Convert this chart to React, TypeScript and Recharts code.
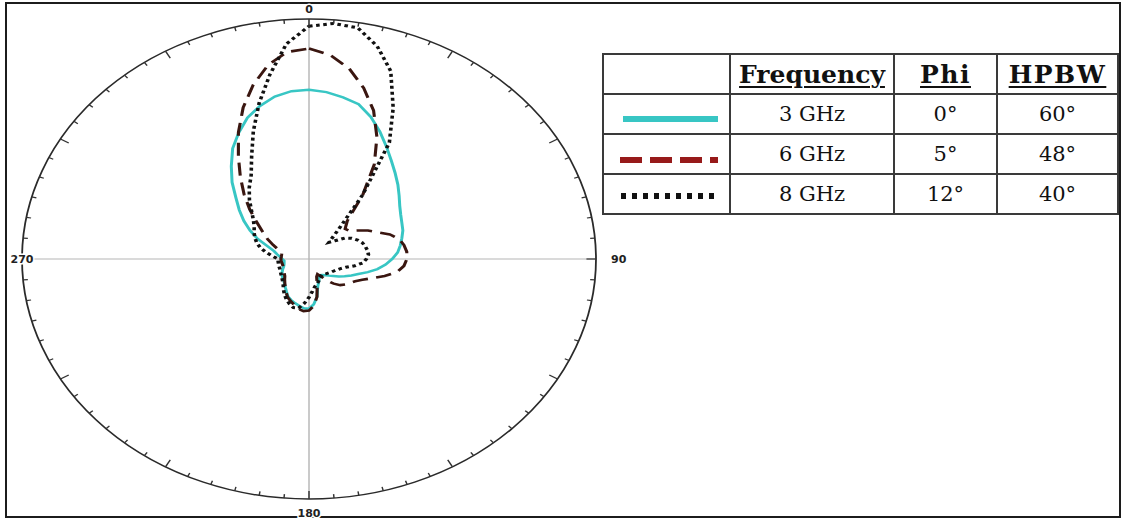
import React from 'react';
import { RadarChart, Radar, PolarGrid, PolarAngleAxis, PolarRadiusAxis } from 'recharts';

// angle categories, clockwise from the top, 5 degree steps
const angles = [
  0, 5, 10, 15, 20, 25, 30, 35, 40, 45, 50, 55, 60, 65, 70, 75, 80, 85,
  90, 95, 100, 105, 110, 115, 120, 125, 130, 135, 140, 145, 150, 155, 160, 165, 170, 175,
  180, 185, 190, 195, 200, 205, 210, 215, 220, 225, 230, 235, 240, 245, 250, 255, 260, 265,
  270, 275, 280, 285, 290, 295, 300, 305, 310, 315, 320, 325, 330, 335, 340, 345, 350, 355,
];

// normalized radiation pattern
const ghz3 = [
  0.705, 0.698, 0.684, 0.668, 0.63, 0.585, 0.54, 0.5, 0.467, 0.438, 0.41, 0.386, 0.369, 0.357, 0.348, 0.335, 0.323, 0.31,
  0.29, 0.268, 0.242, 0.212, 0.183, 0.163, 0.143, 0.127, 0.11, 0.098, 0.088, 0.082, 0.078, 0.085, 0.1, 0.118, 0.16, 0.19,
  0.207, 0.206, 0.198, 0.19, 0.182, 0.173, 0.157, 0.144, 0.133, 0.125, 0.12, 0.115, 0.108, 0.101, 0.094, 0.09, 0.088, 0.087,
  0.093, 0.101, 0.113, 0.126, 0.153, 0.197, 0.237, 0.277, 0.317, 0.36, 0.417, 0.472, 0.532, 0.58, 0.627, 0.66, 0.687, 0.702,
];
const ghz6 = [
  0.877, 0.853, 0.806, 0.737, 0.658, 0.56, 0.455, 0.327, 0.208, 0.178, 0.183, 0.207, 0.237, 0.263, 0.3, 0.324, 0.336, 0.342,
  0.341, 0.332, 0.312, 0.273, 0.234, 0.205, 0.186, 0.174, 0.165, 0.154, 0.134, 0.109, 0.084, 0.07, 0.078, 0.11, 0.16, 0.195,
  0.215, 0.218, 0.211, 0.198, 0.187, 0.176, 0.16, 0.144, 0.131, 0.12, 0.11, 0.105, 0.101, 0.098, 0.096, 0.095, 0.096, 0.097,
  0.098, 0.097, 0.097, 0.098, 0.113, 0.138, 0.167, 0.197, 0.237, 0.292, 0.352, 0.417, 0.492, 0.582, 0.671, 0.751, 0.821, 0.866,
];
const ghz8 = [
  0.97, 0.985, 0.978, 0.918, 0.833, 0.694, 0.56, 0.326, 0.158, 0.098, 0.118, 0.152, 0.172, 0.187, 0.198, 0.203, 0.207, 0.208,
  0.2, 0.188, 0.162, 0.133, 0.117, 0.107, 0.1, 0.095, 0.09, 0.086, 0.082, 0.08, 0.083, 0.088, 0.098, 0.107, 0.117, 0.135,
  0.16, 0.185, 0.208, 0.21, 0.199, 0.186, 0.171, 0.155, 0.14, 0.13, 0.123, 0.118, 0.114, 0.111, 0.109, 0.109, 0.108, 0.108,
  0.108, 0.126, 0.15, 0.174, 0.193, 0.208, 0.221, 0.233, 0.253, 0.283, 0.323, 0.363, 0.403, 0.473, 0.567, 0.672, 0.782, 0.9,
];

const axisLabels = ['0', '90', '180', '270'];

const frequencies = ['3 GHz', '6 GHz', '8 GHz'];
const phiValues = ['0°', '5°', '12°'];
const hpbwValues = ['60°', '48°', '40°'];
const headers = ['Frequency', 'Phi', 'HPBW'];

const data = angles.map((a, i) => ({ angle: a, f3: ghz3[i], f6: ghz6[i], f8: ghz8[i] }));

const SIZE = 560;
const CX = 280;
const CY = 280;
const R = 240;
const SX = 287 / 240; // the original plot is stretched sideways
const RAD = Math.PI / 180;

const CYAN = '#38c6c4';
const DASH = '#3a1610';
const DOT = '#111';

const labelOffset: Record<string, number> = { '0': 10, '90': 19, '180': 14, '270': 0 };

const AngleTick = (props: any) => {
  const { payload } = props;
  const deg = payload.coordinate;
  const value = String(payload.value);
  const cos = Math.cos(-deg * RAD);
  const sin = Math.sin(-deg * RAD);
  const len = Number(value) % 30 === 0 ? 8 : 4;
  const showLabel = axisLabels.includes(value);
  const off = labelOffset[value] ?? 0;
  const lx = CX + (R + off) * cos;
  const ly = CY + (R + off) * sin;
  return (
    <g>
      <line
        x1={CX + R * cos}
        y1={CY + R * sin}
        x2={CX + (R - len) * cos}
        y2={CY + (R - len) * sin}
        stroke="#333"
        strokeWidth={1.2}
      />
      {showLabel && (
        <text
          transform={`translate(${lx} ${ly}) scale(${1 / SX} 1)`}
          textAnchor="middle"
          dominantBaseline="central"
          fontFamily="DejaVu Sans, sans-serif"
          fontWeight="bold"
          fontSize={11}
          fill="#222"
          stroke="#fff"
          strokeWidth={3}
          paintOrder="stroke"
        >
          {value}
        </text>
      )}
    </g>
  );
};

const cell: React.CSSProperties = {
  border: '2px solid #3a3a3a',
  padding: 0,
  textAlign: 'center',
  verticalAlign: 'middle',
  height: 38,
};

const Sample = ({ kind }: { kind: number }) => (
  <svg width={125} height={38} style={{ display: 'block' }}>
    {kind === 0 && <line x1={19} x2={114} y1={24} y2={24} stroke={CYAN} strokeWidth={6} />}
    {kind === 1 && (
      <line x1={16} x2={114} y1={25} y2={25} stroke="#971a1a" strokeWidth={6} strokeDasharray="22 8" />
    )}
    {kind === 2 && (
      <line x1={17} x2={114} y1={21} y2={21} stroke="#111" strokeWidth={6} strokeDasharray="5 6" />
    )}
  </svg>
);

export default function App() {
  return (
    <div style={{ position: 'absolute', left: 0, top: 0, width: 1124, height: 520, background: '#fff' }}>
      <div
        style={{
          position: 'absolute',
          left: 5,
          top: 2,
          width: 1116,
          height: 516,
          border: '2px solid #1c1c1c',
          boxSizing: 'border-box',
        }}
      />
      <div
        style={{
          position: 'absolute',
          left: 309 - CX,
          top: 259 - CY,
          width: SIZE,
          height: SIZE,
          transform: `scaleX(${SX})`,
          transformOrigin: `${CX}px ${CY}px`,
        }}
      >
        <RadarChart
          width={SIZE}
          height={SIZE}
          data={data}
          cx={CX}
          cy={CY}
          outerRadius={R}
          startAngle={90}
          endAngle={-270}
          margin={{ top: 0, right: 0, bottom: 0, left: 0 }}
        >
          <PolarGrid gridType="circle" polarRadius={[]} polarAngles={[0, 90, 180, 270]} stroke="#b5b5b5" strokeWidth={1.2} />
          <PolarRadiusAxis domain={[0, 1]} type="number" tick={false} axisLine={false} />
          <PolarAngleAxis
            dataKey="angle"
            axisLineType="circle"
            axisLine={{ stroke: '#2a2a2a', strokeWidth: 1.5 }}
            tickLine={false}
            tick={AngleTick}
          />
          <Radar dataKey="f3" stroke={CYAN} strokeWidth={2.5} fill="none" dot={false} isAnimationActive={false} />
          <Radar
            dataKey="f6"
            stroke={DASH}
            strokeWidth={2.6}
            strokeDasharray="13 7"
            fill="none"
            dot={false}
            isAnimationActive={false}
          />
          <Radar
            dataKey="f8"
            stroke={DOT}
            strokeWidth={3}
            strokeDasharray="3 3"
            fill="none"
            dot={false}
            isAnimationActive={false}
          />
        </RadarChart>
      </div>
      <table
        style={{
          position: 'absolute',
          left: 602,
          top: 53,
          borderCollapse: 'collapse',
          fontFamily: '"DejaVu Serif", serif',
          color: '#111',
        }}
      >
        <tbody>
          <tr>
            <td style={{ ...cell, width: 125 }} />
            {headers.map((h, i) => (
              <td
                key={h}
                style={{
                  ...cell,
                  width: [162, 101, 119][i],
                  fontWeight: 'bold',
                  fontSize: 25,
                  letterSpacing: i === 0 ? 0 : 1.5,
                  textDecoration: 'underline',
                  textDecorationThickness: 2,
                  textUnderlineOffset: 3,
                }}
              >
                {h}
              </td>
            ))}
          </tr>
          {frequencies.map((f, i) => (
            <tr key={f}>
              <td style={cell}>
                <Sample kind={i} />
              </td>
              <td style={{ ...cell, fontSize: 21 }}>{f}</td>
              <td style={{ ...cell, fontSize: 21 }}>{phiValues[i]}</td>
              <td style={{ ...cell, fontSize: 21 }}>{hpbwValues[i]}</td>
            </tr>
          ))}
        </tbody>
      </table>
    </div>
  );
}
